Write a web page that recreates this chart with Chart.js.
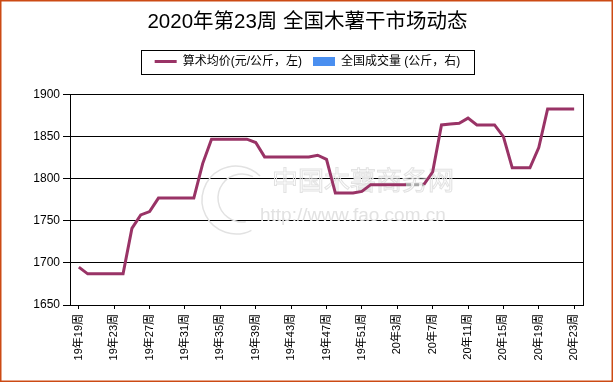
<!DOCTYPE html>
<html>
<head>
<meta charset="utf-8">
<script src="https://cdn.jsdelivr.net/npm/chart.js@4/dist/chart.umd.min.js"></script>
<style>
  body { margin: 0; background: #fff; }
  #wrap { width: 615px; height: 385px; }
</style>
</head>
<body>
<div id="wrap"><canvas id="mainChart" width="615" height="385"></canvas></div>
<script>
// --- DATOS ---
const chartTitle = '2020年第23周 全国木薯干市场动态';
const priceLabel = '算术均价(元/公斤，左)';
const volumeLabel = '全国成交量 (公斤，右)';

// semanas 19年19周 .. 20年23周
const weeks = [
  '19年19周', '19年20周', '19年21周', '19年22周', '19年23周', '19年24周', '19年25周', '19年26周',
  '19年27周', '19年28周', '19年29周', '19年30周', '19年31周', '19年32周', '19年33周', '19年34周',
  '19年35周', '19年36周', '19年37周', '19年38周', '19年39周', '19年40周', '19年41周', '19年42周',
  '19年43周', '19年44周', '19年45周', '19年46周', '19年47周', '19年48周', '19年49周', '19年50周',
  '19年51周', '19年52周', '20年1周', '20年2周', '20年3周', '20年4周', '20年5周', '20年6周',
  '20年7周', '20年8周', '20年9周', '20年10周', '20年11周', '20年12周', '20年13周', '20年14周',
  '20年15周', '20年16周', '20年17周', '20年18周', '20年19周', '20年20周', '20年21周', '20年22周',
  '20年23周'
];

const priceValues = [
  1695, 1687, 1687, 1687, 1687, 1687, 1741, 1757,
  1761, 1777, 1777, 1777, 1777, 1777, 1818, 1847,
  1847, 1847, 1847, 1847, 1843, 1826, 1826, 1826,
  1826, 1826, 1826, 1828, 1823, 1783, 1783, 1783,
  1785, 1793, 1793, 1793, 1793, 1793, null, 1793,
  1808, 1864, 1865, 1866, 1872, 1864, 1864, 1864,
  1850, 1813, 1813, 1813, 1837, 1883, 1883, 1883,
  1883
];

const volumeValues = []; // sin datos de volumen en esta semana

const yTicks = [1650, 1700, 1750, 1800, 1850, 1900];
const xTickEvery = 4;

const priceColor = '#993366';
const volumeColor = '#4a8ff0';
const gapColor = '#a8a8a8';
const FONT = '"Liberation Sans", "Noto Sans CJK SC", sans-serif';

// --- PLUGINS ---
// marca de agua
const watermark = {
  id: 'watermark',
  beforeDatasetsDraw(chart) {
    const ctx = chart.ctx;
    ctx.save();
    ctx.strokeStyle = '#e2e2e2';
    ctx.lineWidth = 1.5;
    ctx.beginPath();
    ctx.arc(236, 200, 34, 0.35 * Math.PI, 1.75 * Math.PI);
    ctx.stroke();
    ctx.beginPath();
    ctx.arc(242, 198, 24, 0.45 * Math.PI, 1.65 * Math.PI);
    ctx.stroke();
    ctx.font = '26px ' + FONT;
    ctx.lineWidth = 1;
    ctx.textBaseline = 'middle';
    ctx.strokeText('中国木薯商务网', 272, 183);
    ctx.fillStyle = '#e2e2e2';
    ctx.font = '19px ' + FONT;
    ctx.fillText('http://www.fao.com.cn', 260, 216);
    ctx.restore();
  }
};

// marco de la leyenda y borde exterior
const frame = {
  id: 'frame',
  afterDraw(chart) {
    const ctx = chart.ctx;
    const boxes = chart.legend.legendHitBoxes;
    ctx.save();
    if (boxes && boxes.length) {
      const left = Math.min(...boxes.map(b => b.left)) - 14;
      const right = Math.max(...boxes.map(b => b.left + b.width)) + 13;
      const cy = boxes[0].top + boxes[0].height / 2;
      ctx.strokeStyle = '#000';
      ctx.lineWidth = 1;
      ctx.strokeRect(Math.round(left) + 0.5, Math.round(cy - 12) + 0.5, Math.round(right - left), 24);
    }
    ctx.strokeStyle = '#cc4a14';
    ctx.lineWidth = 1.5;
    ctx.strokeRect(0.75, 0.75, 611.5, 380.5);
    ctx.restore();
  }
};

// --- GRÁFICO ---
const ctx = document.getElementById('mainChart');
const mainChart = new Chart(ctx, {
  data: {
    datasets: [
      {
        type: 'line',
        label: priceLabel,
        data: priceValues.map((v, i) => ({ x: i, y: v })),
        borderColor: priceColor,
        backgroundColor: priceColor,
        borderWidth: 3,
        pointRadius: 0,
        tension: 0,
        spanGaps: true,
        yAxisID: 'y',
        segment: {
          borderColor: c => (c.p0.skip || c.p1.skip) ? gapColor : undefined,
          borderDash: c => (c.p0.skip || c.p1.skip) ? [5, 3] : undefined
        }
      },
      {
        type: 'bar',
        label: volumeLabel,
        data: volumeValues,
        backgroundColor: volumeColor,
        yAxisID: 'y1'
      }
    ]
  },
  options: {
    responsive: false,
    animation: false,
    devicePixelRatio: 1,
    layout: { padding: { left: 0, right: 0, top: 0, bottom: 0 } },
    plugins: {
      title: {
        display: true,
        text: chartTitle,
        color: '#000',
        font: { family: FONT, size: 20.5, weight: 'normal' },
        padding: { top: 10, bottom: 10 }
      },
      subtitle: {
        display: true,
        text: '',
        weight: 100,
        font: { size: 10 },
        padding: { top: 0, bottom: 5 }
      },
      legend: {
        display: true,
        labels: {
          color: '#000',
          font: { family: FONT, size: 12 },
          usePointStyle: true,
          pointStyleWidth: 22,
          boxHeight: 9,
          padding: 11,
          generateLabels: () => [
            { text: priceLabel, fillStyle: priceColor, strokeStyle: priceColor, lineWidth: 3, pointStyle: 'line', datasetIndex: 0, hidden: false },
            { text: volumeLabel, fillStyle: volumeColor, strokeStyle: volumeColor, lineWidth: 0, pointStyle: 'rect', datasetIndex: 1, hidden: false }
          ]
        }
      },
      tooltip: { enabled: false }
    },
    scales: {
      x: {
        type: 'linear',
        offset: false,
        min: -1,
        max: weeks.length,
        afterBuildTicks: axis => {
          axis.ticks = weeks.map((w, i) => ({ value: i })).filter(t => t.value % xTickEvery === 0);
        },
        afterFit: s => { s.height = 80; },
        ticks: {
          autoSkip: false,
          minRotation: 90,
          maxRotation: 90,
          padding: 5,
          color: '#000',
          font: { family: FONT, size: 11 },
          callback: v => weeks[v]
        },
        grid: { drawOnChartArea: false, color: '#000', tickLength: 4, offset: false },
        border: { color: '#000' }
      },
      y: {
        position: 'left',
        min: yTicks[0],
        max: yTicks[yTicks.length - 1],
        afterBuildTicks: axis => { axis.ticks = yTicks.map(v => ({ value: v })); },
        afterFit: s => { s.width = 70; },
        ticks: {
          padding: 3,
          color: '#000',
          font: { family: FONT, size: 12 },
          callback: v => String(v)
        },
        grid: { color: '#000', tickLength: 7 },
        border: { color: '#000' }
      },
      y1: {
        position: 'right',
        display: true,
        afterFit: s => { s.width = 32; },
        ticks: { display: false },
        grid: { drawOnChartArea: false, drawTicks: false },
        border: { display: true, color: '#000' }
      }
    }
  },
  plugins: [watermark, frame]
});
</script>
</body>
</html>
